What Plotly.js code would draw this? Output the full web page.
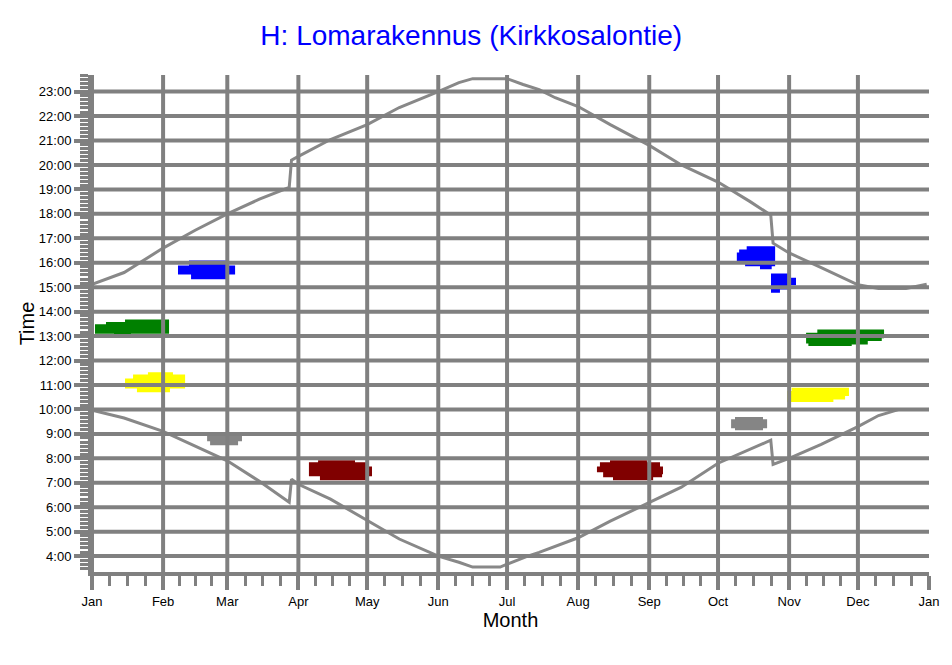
<!DOCTYPE html>
<html><head><meta charset="utf-8">
<script src="https://cdn.plot.ly/plotly-3.0.1.min.js"></script>
<style>html,body{margin:0;padding:0;background:#fff}#chart{width:952px;height:665px}</style>
</head><body><div id="chart"></div>
<script>
// ---------- axis categories ----------
const monthLabels = ['Jan','Feb','Mar','Apr','May','Jun','Jul','Aug','Sep','Oct','Nov','Dec','Jan'];
const monthStarts = ['2015-01-01','2015-02-01','2015-03-01','2015-04-01','2015-05-01','2015-06-01','2015-07-01','2015-08-01','2015-09-01','2015-10-01','2015-11-01','2015-12-01','2016-01-01'];
const hourTicks = [4,5,6,7,8,9,10,11,12,13,14,15,16,17,18,19,20,21,22,23];
const hourLabels = hourTicks.map(h => h + ':00');

// ---------- sunset / sunrise (hours) ----------
const sunsetDates = ['2015-01-01','2015-01-15','2015-02-01','2015-02-15','2015-03-01','2015-03-15','2015-03-28','2015-03-29','2015-04-01','2015-04-15','2015-05-01','2015-05-15','2015-06-01','2015-06-10','2015-06-16','2015-07-01','2015-07-08','2015-07-15','2015-07-22','2015-08-01','2015-08-15','2015-09-01','2015-09-15','2015-10-01','2015-10-15','2015-10-24','2015-10-25','2015-11-01','2015-11-15','2015-12-01','2015-12-10','2015-12-22','2015-12-31'];
const sunsetHours = [15.12,15.6,16.6,17.33,18.0,18.6,19.08,20.2,20.35,21.04,21.65,22.35,23.0,23.37,23.53,23.53,23.29,23.08,22.75,22.39,21.65,20.8,20.0,19.3,18.5,17.95,16.8,16.4,15.8,15.1,14.95,14.95,15.12];

const sunriseDates = ['2015-01-01','2015-01-15','2015-02-01','2015-02-15','2015-03-01','2015-03-15','2015-03-28','2015-03-29','2015-04-01','2015-04-15','2015-05-01','2015-05-15','2015-06-01','2015-06-10','2015-06-16','2015-06-28','2015-07-01','2015-07-10','2015-07-15','2015-08-01','2015-08-15','2015-09-01','2015-09-15','2015-10-01','2015-10-15','2015-10-24','2015-10-25','2015-11-01','2015-11-15','2015-12-01','2015-12-10','2015-12-19','2015-12-31'];
const sunriseHours = [9.97,9.65,9.1,8.5,7.9,7.06,6.2,7.15,6.94,6.33,5.45,4.7,4.0,3.75,3.55,3.55,3.67,4.0,4.15,4.75,5.43,6.2,6.82,7.8,8.37,8.74,7.75,8.0,8.57,9.3,9.75,10.0,10.0];

// ---------- usage areas: day offsets from 1 Jan, hours ----------
const greenJanDays  = [1.3,6.1,6.1,14.4,14.4,33.6,33.6,17.0,17.0,9.6,9.6,1.3];
const greenJanHours = [13.48,13.48,13.58,13.58,13.68,13.68,13.1,13.1,12.95,12.95,13.1,13.1];

const yellowJanDays  = [14.4,17.9,17.9,24.4,24.4,35.3,35.3,40.6,40.6,34.0,34.0,19.6,19.6,14.4];
const yellowJanHours = [11.27,11.27,11.43,11.43,11.52,11.52,11.43,11.43,10.86,10.86,10.7,10.7,10.86,10.86];

const blueFebDays  = [37.5,42.3,42.3,59.3,59.3,62.4,62.4,58.9,58.9,43.2,43.2,37.5];
const blueFebHours = [15.89,15.89,16.09,16.09,15.89,15.89,15.52,15.52,15.32,15.32,15.52,15.52];

const grayFebDays  = [50.2,65.4,65.4,63.7,63.7,51.5,51.5,50.2];
const grayFebHours = [9.05,9.05,8.7,8.7,8.53,8.53,8.7,8.7];

const redAprDays  = [94.6,98.6,98.6,114.7,114.7,119.9,119.9,122.1,122.1,119.9,119.9,99.4,99.4,94.6];
const redAprHours = [7.84,7.84,7.92,7.92,7.84,7.84,7.67,7.67,7.27,7.27,7.1,7.1,7.27,7.27];

const redAugDays  = [220.2,220.2,221.5,221.5,225.9,225.9,242.0,242.0,247.7,247.7,249.0,249.0,248.6,248.6,244.7,244.7,227.2,227.2,222.9,222.9];
const redAugHours = [7.43,7.67,7.67,7.84,7.84,7.92,7.92,7.84,7.84,7.67,7.67,7.35,7.35,7.23,7.23,7.1,7.1,7.23,7.23,7.43];

const grayOctDays  = [278.7,280.4,280.4,292.6,292.6,294.4,294.4,292.6,292.6,280.4,280.4,278.7];
const grayOctHours = [9.6,9.6,9.69,9.69,9.6,9.6,9.23,9.23,9.15,9.15,9.23,9.23];

const blueOctDays  = [281.2,282.2,282.2,285.5,285.5,297.9,297.9,296.4,296.4,291.3,291.3,284.8,284.8,281.2];
const blueOctHours = [16.42,16.42,16.54,16.54,16.68,16.68,15.86,15.86,15.73,15.73,15.86,15.86,16.06,16.06];

const blueNovDays  = [296.1,303.7,303.7,307.0,307.0,303.7,303.7,300.0,300.0,296.1];
const blueNovHours = [15.56,15.56,15.39,15.39,15.08,15.08,14.91,14.91,14.77,14.77];

const greenNovDays  = [311.4,316.3,316.3,345.4,345.4,344.4,344.4,338.3,338.3,331.3,331.3,312.4,312.4,311.4];
const greenNovHours = [13.14,13.14,13.27,13.27,12.91,12.91,12.8,12.8,12.66,12.66,12.59,12.59,12.7,12.7];

const yellowNovDays  = [303.2,305.1,305.1,330.1,330.1,328.4,328.4,323.3,323.3,303.2];
const yellowNovHours = [10.75,10.75,10.89,10.89,10.55,10.55,10.41,10.41,10.3,10.3];

// ---------- build ----------
const DAY = 86400000;
const yearStart = Date.UTC(2015, 0, 1);
const toMs = d => yearStart + d * DAY;
const GRID = '#808080';

function area(days, hours, color) {
  return {x: days.map(toMs), y: hours, type: 'scatter', mode: 'lines', fill: 'toself',
          fillcolor: color, line: {width: 0, color: color}, hoverinfo: 'skip', showlegend: false};
}

const traces = [
  area(greenJanDays, greenJanHours, '#008000'),
  area(yellowJanDays, yellowJanHours, '#FFFF00'),
  area(blueFebDays, blueFebHours, '#0000FF'),
  area(grayFebDays, grayFebHours, '#858585'),
  area(redAprDays, redAprHours, '#800000'),
  area(redAugDays, redAugHours, '#800000'),
  area(grayOctDays, grayOctHours, '#858585'),
  area(blueOctDays, blueOctHours, '#0000FF'),
  area(blueNovDays, blueNovHours, '#0000FF'),
  area(greenNovDays, greenNovHours, '#008000'),
  area(yellowNovDays, yellowNovHours, '#FFFF00'),
  {x: sunsetDates, y: sunsetHours, type: 'scatter', mode: 'lines', line: {color: '#888888', width: 3}, showlegend: false},
  {x: sunriseDates, y: sunriseHours, type: 'scatter', mode: 'lines', line: {color: '#888888', width: 3}, showlegend: false}
];

// minor x ticks: quarters of each month
const minorX = [];
for (let i = 0; i < 12; i++) {
  const a = Date.parse(monthStarts[i] + 'T00:00:00Z'), b = Date.parse(monthStarts[i + 1] + 'T00:00:00Z');
  for (let k = 1; k < 4; k++) minorX.push(a + (b - a) * k / 4);
}

// grid lines drawn above the areas
const shapes = [];
monthStarts.slice(0, 12).forEach(m => shapes.push({type: 'line', xref: 'x', yref: 'paper', x0: m, x1: m, y0: 0, y1: 1,
  line: {color: GRID, width: 4}, layer: 'above'}));
hourTicks.forEach(h => shapes.push({type: 'line', xref: 'paper', yref: 'y', x0: 0, x1: 1, y0: h, y1: h,
  line: {color: GRID, width: 4}, layer: 'above'}));

const FONT = 'Liberation Sans, Arial, sans-serif';
const layout = {
  width: 952, height: 665,
  margin: {l: 92, r: 23, t: 75, b: 93, pad: 0},
  paper_bgcolor: '#fff', plot_bgcolor: '#fff',
  font: {family: FONT, color: '#000'},
  title: {text: 'H: Lomarakennus (Kirkkosalontie)', font: {family: FONT, size: 28, color: '#0000FF'},
          xref: 'container', x: 0.495, xanchor: 'center', yref: 'container', y: 1 - 35 / 665, yanchor: 'middle'},
  xaxis: {
    type: 'date', range: ['2015-01-01', '2016-01-01'],
    tickmode: 'array', tickvals: monthStarts, ticktext: monthLabels,
    ticks: 'outside', ticklen: 14, tickwidth: 4, tickcolor: GRID,
    tickfont: {size: 13, color: '#000'},
    showgrid: false, zeroline: false,
    showline: true, linecolor: GRID, linewidth: 4,
    minor: {tickmode: 'array', tickvals: minorX, ticks: 'outside', ticklen: 10, tickwidth: 3, tickcolor: GRID, showgrid: false},
    title: {text: 'Month', font: {size: 20, color: '#000'}, standoff: 6},
    fixedrange: true
  },
  yaxis: {
    range: [3.35, 23.68],
    tickmode: 'array', tickvals: hourTicks, ticktext: hourLabels,
    ticks: 'outside', ticklen: 14, tickwidth: 4, tickcolor: GRID,
    tickfont: {size: 13, color: '#000'},
    showgrid: false, zeroline: false,
    showline: true, linecolor: GRID, linewidth: 4,
    minor: {tickmode: 'linear', tick0: 0, dtick: 1 / 6, ticks: 'outside', ticklen: 8, tickwidth: 3, tickcolor: GRID, showgrid: false},
    title: {text: 'Time', font: {size: 20, color: '#000'}, standoff: 0},
    fixedrange: true
  },
  shapes: shapes,
  showlegend: false
};

Plotly.newPlot('chart', traces, layout, {displayModeBar: false, staticPlot: true});
</script>
</body></html>
